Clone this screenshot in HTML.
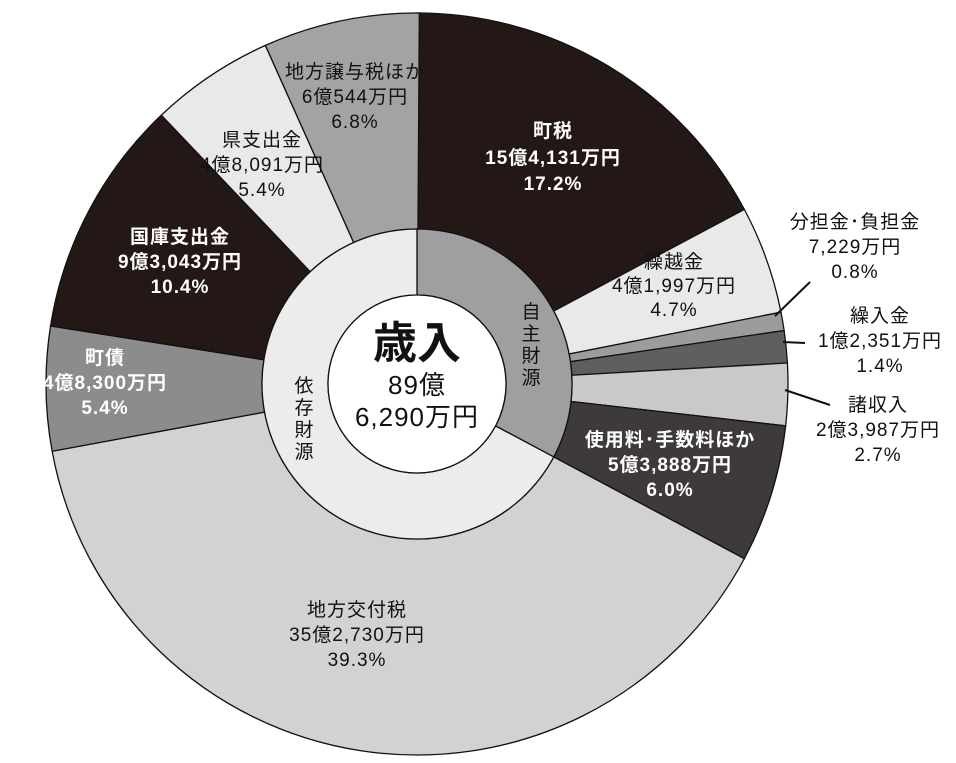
<!DOCTYPE html>
<html><head><meta charset="utf-8"><style>
html,body{margin:0;padding:0;background:#fff;width:956px;height:763px;overflow:hidden}
text{font-family:"Liberation Sans","Noto Sans CJK JP",sans-serif}
</style></head><body>
<svg id="s" width="956" height="763" viewBox="0 0 956 763" xmlns="http://www.w3.org/2000/svg">
<g id="segs"></g>
<g font-size="19" text-anchor="middle" letter-spacing="1">
<g fill="#fff" font-weight="bold">
<text x="553" y="137">町税</text><text x="553" y="164">15億4,131万円</text><text x="553" y="190">17.2%</text>
<text x="670" y="446">使用料･手数料ほか</text><text x="670" y="471">5億3,888万円</text><text x="670" y="496">6.0%</text>
<text x="105" y="364">町債</text><text x="105" y="389">4億8,300万円</text><text x="105" y="414">5.4%</text>
<text x="180" y="243">国庫支出金</text><text x="180" y="268">9億3,043万円</text><text x="180" y="293">10.4%</text>
</g>
<g fill="#111">
<text x="674" y="268">繰越金</text><text x="674" y="292">4億1,997万円</text><text x="674" y="316">4.7%</text>
<text x="855" y="228">分担金･負担金</text><text x="855" y="253">7,229万円</text><text x="855" y="278">0.8%</text>
<text x="880" y="322">繰入金</text><text x="880" y="347">1億2,351万円</text><text x="880" y="372">1.4%</text>
<text x="878" y="411">諸収入</text><text x="878" y="436">2億3,987万円</text><text x="878" y="461">2.7%</text>
<text x="357" y="616">地方交付税</text><text x="357" y="641">35億2,730万円</text><text x="357" y="666">39.3%</text>
<text x="262" y="146">県支出金</text><text x="262" y="171">4億8,091万円</text><text x="262" y="196">5.4%</text>
<text x="355" y="78">地方譲与税ほか</text><text x="355" y="103">6億544万円</text><text x="355" y="128">6.8%</text>
</g>
<g fill="#111" font-size="19" letter-spacing="0">
<text x="531" y="318">自</text><text x="531" y="340">主</text><text x="531" y="362">財</text><text x="531" y="384">源</text>
<text x="304" y="392">依</text><text x="304" y="414">存</text><text x="304" y="436">財</text><text x="304" y="458">源</text>
</g>
<text x="417" y="358" font-size="44" font-weight="bold" fill="#111" letter-spacing="0">歳入</text>
<text x="417" y="394" font-size="26" fill="#111">89億</text>
<text x="417" y="426" font-size="26" fill="#111">6,290万円</text>
</g>
<g stroke="#111" stroke-width="2">
<line x1="810" y1="282" x2="775" y2="316"/>
<line x1="783" y1="342" x2="805" y2="343"/>
<line x1="785" y1="390" x2="830" y2="405"/>
</g>
</svg>
<script>
var cx=417,cy=384,R=371,R2=155,R3=89;
var d=[[17.2,"#231815"],[4.7,"#e9e9e9"],[0.8,"#9c9c9c"],[1.4,"#5f5f5f"],[2.7,"#c9c9c9"],[6.0,"#3e3a39"],[39.3,"#d2d2d2"],[5.4,"#8c8c8c"],[10.4,"#231815"],[5.4,"#e9e9e9"],[6.8,"#a3a3a3"]];
function pt(a,r){var t=a*3.6*Math.PI/180;return [cx+r*Math.sin(t),cy-r*Math.cos(t)];}
function arc(a0,a1,ro,ri,f){var p0=pt(a0,ro),p1=pt(a1,ro),q1=pt(a1,ri),q0=pt(a0,ri);var lg=(a1-a0)>50?1:0;
return '<path d="M'+p0+' A'+ro+','+ro+' 0 '+lg+' 1 '+p1+' L'+q1+' A'+ri+','+ri+' 0 '+lg+' 0 '+q0+' Z" fill="'+f+'" stroke="#111" stroke-width="1.3"/>';}
var h='',a=0;d.forEach(function(s){h+=arc(a,a+s[0],R,R2,s[1]);a+=s[0];});
h+=arc(0,32.8,R2,R3,"#9f9f9f")+arc(32.8,99.999,R2,R3,"#ececec");
h+='<circle cx="'+cx+'" cy="'+cy+'" r="'+R3+'" fill="#fff" stroke="#111" stroke-width="1.3"/>';
document.getElementById('segs').innerHTML=h;
</script>
</body></html>
